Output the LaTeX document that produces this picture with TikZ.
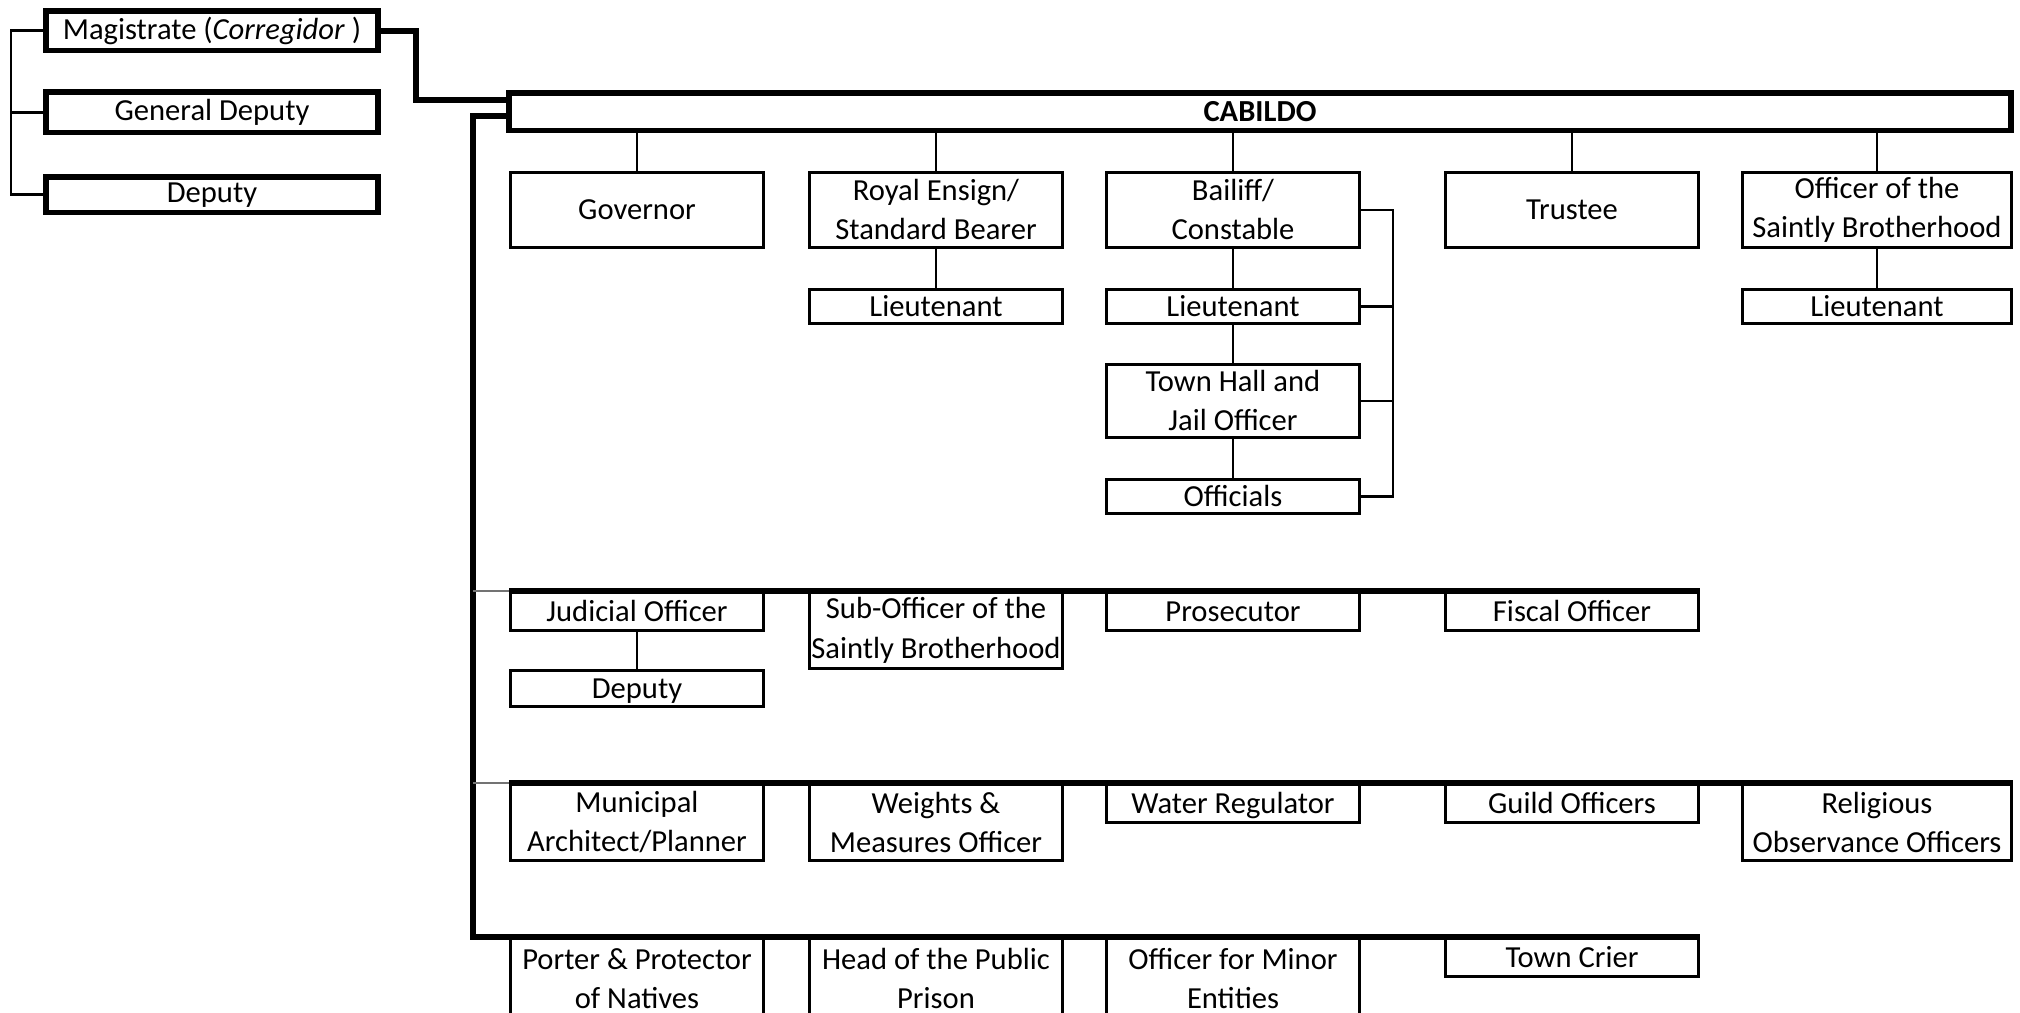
\documentclass[tikz,border=0pt]{standalone}
\usepackage{fontspec}
\setmainfont{Carlito}
\usetikzlibrary{calc}

\begin{document}
\begin{tikzpicture}[
  x=0.01cm, y=-0.01cm,
  cell/.style ={draw=black, line width=0.75pt, inner sep=0pt, anchor=north,
                minimum width=2.53cm, minimum height=0.38cm, align=center,
                font=\fontsize{8.7}{11.1}\selectfont},
  post/.style ={cell, text height=6.6pt, text depth=0.9pt},
  wide/.style ={cell, minimum width=2.69cm},
  chief/.style={cell, line width=1.6pt, minimum width=3.32cm},
  link/.style ={draw=black, line width=0.75pt},
  bar/.style  ={draw=black, line width=1.6pt},
  stub/.style ={draw=black!55, line width=0.6pt},
]
  \path[use as bounding box, fill=white] (0,0) rectangle (2020,1013);

  % --- the magistrate and his deputies ---------------------------
  \node[chief, minimum height=0.39cm] (mag)  at (212,8.5)   {Magistrate (\textit{Corregidor} )};
  \node[chief, minimum height=0.40cm] (gdep) at (212,89.5)  {General Deputy};
  \node[chief, minimum height=0.35cm] (dep)  at (212,174.5) {Deputy};

  % --- the council -----------------------------------------------
  \node[chief, minimum width=15.01cm, minimum height=0.37cm,
        font=\fontsize{8.7}{11.1}\selectfont\bfseries] (cab) at (1260,90.5) {CABILDO};

  % --- row 1: the chief offices ----------------------------------
  \node[post, minimum height=0.75cm] (gov) at (637,171)  {Governor};
  \node[cell, minimum height=0.75cm] (ens) at (936,171)  {Royal Ensign/\\Standard Bearer};
  \node[cell, minimum height=0.75cm] (bai) at (1233,171) {Bailiff/\\Constable};
  \node[post, minimum height=0.75cm] (tru) at (1572,171) {Trustee};
  \node[wide, minimum height=0.75cm] (sbo) at (1877,171) {Officer of the\\Saintly Brotherhood};

  \node[post, minimum height=0.34cm] (lt2) at (936,288)  {Lieutenant};
  \node[post, minimum height=0.34cm] (lt3) at (1233,288) {Lieutenant};
  \node[wide, text height=6.6pt, text depth=0.9pt,
        minimum height=0.34cm] (lt5) at (1877,288) {Lieutenant};
  \node[cell, minimum height=0.73cm] (town) at (1233,363) {Town Hall and\\Jail Officer};
  \node[post, minimum height=0.34cm] (offl) at (1233,478) {Officials};

  % --- row 2 -----------------------------------------------------
  \node[post] (jud)  at (637,591)  {Judicial Officer};
  \node[cell, minimum height=0.76cm] (sub) at (936,591) {Sub-Officer of the\\Saintly Brotherhood};
  \node[post] (pros) at (1233,591) {Prosecutor};
  \node[post] (fisc) at (1572,591) {Fiscal Officer};
  \node[post, minimum height=0.36cm] (dep2) at (637,669) {Deputy};

  % --- row 3 -----------------------------------------------------
  \node[cell, minimum height=0.76cm] (mun) at (637,783) {Municipal\\Architect/Planner};
  \node[cell, minimum height=0.76cm] (wts) at (936,783) {Weights \&\\Measures Officer};
  \node[post] (wat) at (1233,783) {Water Regulator};
  \node[post] (gld) at (1572,783) {Guild Officers};
  \node[wide, minimum height=0.76cm] (rel) at (1877,783) {Religious\\Observance Officers};

  % --- row 4 (runs off the bottom edge) --------------------------
  \node[cell, minimum height=0.80cm] (por) at (637,937)  {Porter \& Protector\\of Natives};
  \node[cell, minimum height=0.80cm] (hea) at (936,937)  {Head of the Public\\Prison};
  \node[cell, minimum height=0.80cm] (ome) at (1233,937) {Officer for Minor\\Entities};
  \node[post] (cri) at (1572,937) {Town Crier};

  % --- connectors ------------------------------------------------
  \draw[link] (mag.west) -- ++(-32,0) |- (dep.west);
  \draw[link] (gdep.west) -- ++(-32,0);
  \draw[bar] (mag.east) -- ++(35,0) |- ($(cab.west)+(0,-12)$);

  \coordinate (t2) at (473,591);
  \coordinate (t3) at (473,783);
  \coordinate (t4) at (473,937);
  \draw[bar] ($(cab.west)+(0,4)$) -| (t4) -- (cri.north east);
  \draw[stub] (t2) -- (jud.north west);
  \draw[bar]  (jud.north west) -- (fisc.north east);
  \draw[stub] (t3) -- (mun.north west);
  \draw[bar]  (mun.north west) -- (rel.north east);

  \foreach \n in {gov,ens,bai,tru,sbo}
    \draw[link] (cab.south -| \n.north) -- (\n.north);
  \foreach \a/\b in {ens/lt2, bai/lt3, lt3/town, town/offl, sbo/lt5, jud/dep2}
    \draw[link] (\a.south) -- (\b.north);

  \draw[link] (bai.east) -- ++(32,0) |- (offl.east);
  \foreach \n in {lt3,town}
    \draw[link] (\n.east) -- ++(32,0);
\end{tikzpicture}
\end{document}
